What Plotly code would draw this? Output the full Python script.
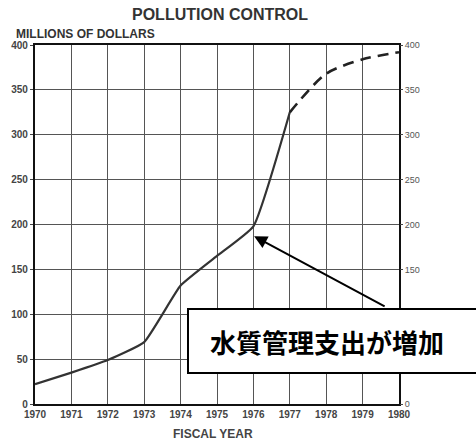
import plotly.graph_objects as go

years_actual = [1970, 1971, 1972, 1973, 1974, 1975, 1976, 1977]
spend_actual = [22, 35, 49, 69, 132, 165, 198, 325]
years_proj = [1977, 1978, 1979, 1980]
spend_proj = [325, 368, 384, 392]
year_ticks = list(range(1970, 1981))
value_ticks = list(range(0, 401, 50))

title_text = "POLLUTION CONTROL"
yunit_text = "MILLIONS OF DOLLARS"
xtitle_text = "FISCAL YEAR"
callout_text = "水質管理支出が増加"

W, H = 476, 443
L, R, T, B = 35, 77, 45, 39
pw, ph = W - L - R, H - T - B

def px_x(p):
    return (p - L) / pw

def px_y(p):
    return (H - B - p) / ph

fig = go.Figure()
fig.add_trace(go.Scatter(
    x=years_actual, y=spend_actual, mode="lines",
    line=dict(color="#333333", width=2.2, shape="spline", smoothing=0.4),
    hoverinfo="skip", showlegend=False))
fig.add_trace(go.Scatter(
    x=years_proj, y=spend_proj, mode="lines", yaxis="y2",
    line=dict(color="#222222", width=2.6, shape="spline", smoothing=0.8, dash="11px,7px"),
    hoverinfo="skip", showlegend=False))

font_family = "Liberation Sans, Arial, sans-serif"
tickfont = dict(family=font_family, size=10, color="#444444", weight="bold")

fig.update_layout(
    width=W, height=H,
    margin=dict(l=L, r=R, t=T, b=B, pad=0),
    paper_bgcolor="white", plot_bgcolor="white",
    xaxis=dict(range=[1970, 1980], tickvals=year_ticks, ticktext=[str(v) for v in year_ticks],
               showgrid=True, gridcolor="#555555", gridwidth=1.3,
               showline=True, linecolor="#111111", linewidth=2.2, mirror=True,
               zeroline=False, ticks="", tickfont=tickfont),
    yaxis=dict(range=[0, 400], tickvals=value_ticks, showgrid=True, gridcolor="#555555", gridwidth=1.3,
               showline=True, linecolor="#111111", linewidth=2.2, mirror=True,
               zeroline=False, ticks="outside", ticklen=3, tickcolor="#444444",
               tickfont=tickfont),
    yaxis2=dict(range=[0, 400], tickvals=value_ticks, overlaying="y", side="right",
                matches="y", showgrid=False, zeroline=False, ticks="outside", ticklen=3,
                tickcolor="#444444", showline=False,
                tickfont=dict(family=font_family, size=9, color="#555555")),
    annotations=[
        dict(text=title_text, xref="paper", yref="paper", x=px_x(220), y=px_y(15),
             xanchor="center", yanchor="middle", showarrow=False,
             font=dict(family=font_family, size=16, color="#333333", weight="bold")),
        dict(text=yunit_text, xref="paper", yref="paper", x=px_x(14), y=px_y(34),
             xanchor="left", yanchor="middle", showarrow=False,
             font=dict(family=font_family, size=12, color="#333333", weight="bold")),
        dict(text=xtitle_text, xref="paper", yref="paper", x=px_x(213), y=px_y(434),
             xanchor="center", yanchor="middle", showarrow=False,
             font=dict(family=font_family, size=12, color="#444444", weight="bold")),
        dict(text="", x=1976.02, y=187, xref="x", yref="y", ax=132, ay=71,
             showarrow=True, arrowhead=2, arrowsize=1.3, arrowwidth=2, arrowcolor="black",
             standoff=0),
        dict(text="&nbsp;", xref="paper", yref="paper", x=px_x(187), y=px_y(308),
             xanchor="left", yanchor="top", showarrow=False,
             width=296, height=62, borderpad=0,
             bgcolor="white", bordercolor="black", borderwidth=2,
             font=dict(size=10)),
        dict(text=callout_text, xref="paper", yref="paper", x=px_x(327), y=px_y(341),
             xanchor="center", yanchor="middle", showarrow=False,
             font=dict(family="Noto Sans CJK JP", size=26, color="black", weight="bold")),
    ],
)

fig.write_html("out.html", config={"displayModeBar": False},
               post_script="document.body.style.margin='0';")
